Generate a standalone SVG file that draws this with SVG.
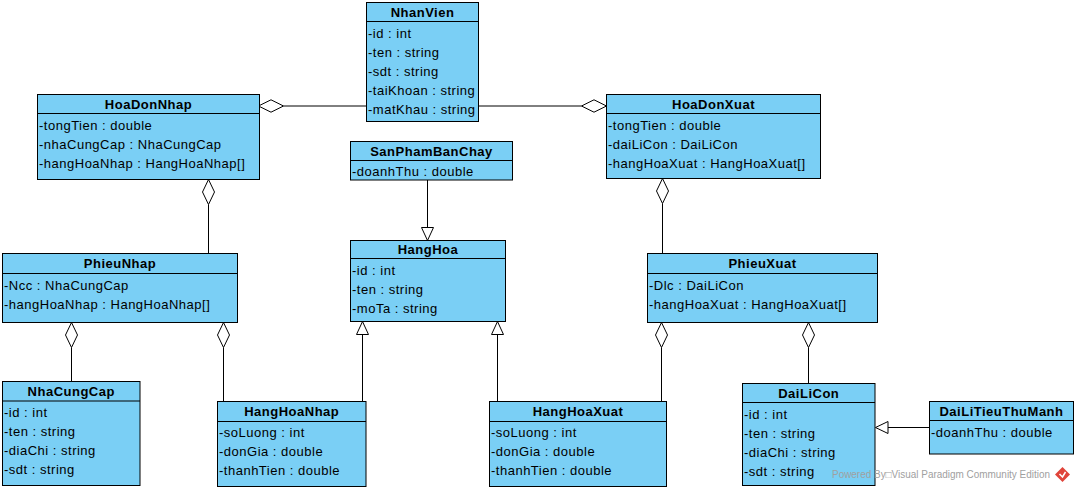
<svg xmlns="http://www.w3.org/2000/svg" width="1076" height="491" viewBox="0 0 1076 491">
<style>
.box{fill:#7ACFF5;stroke:#000;stroke-width:1}
.sep{stroke:#000;stroke-width:1}
.t{font-family:"Liberation Sans",Arial,sans-serif;font-size:13px;letter-spacing:0.5px;fill:#000}
.h{font-family:"Liberation Sans",Arial,sans-serif;font-size:13px;font-weight:bold;letter-spacing:0.5px;fill:#000;text-anchor:middle}
.ln{stroke:#000;stroke-width:1;fill:none}
.hd{fill:#fff;stroke:#000;stroke-width:1}
.wm{font-family:"Liberation Sans",Arial,sans-serif;font-size:10px;fill:#a0a0a0}
</style>
<rect width="1076" height="491" fill="#fff"/>
<g id="connectors">
  <line class="ln" x1="283.5" y1="106" x2="366.5" y2="106"/>
  <polygon class="hd" points="258.5,106 271,99.8 283.5,106 271,112.2"/>
  <line class="ln" x1="478.5" y1="106" x2="581.5" y2="106"/>
  <polygon class="hd" points="606.5,106 594,99.8 581.5,106 594,112.2"/>
  <line class="ln" x1="208.5" y1="204.5" x2="208.5" y2="253.5"/>
  <polygon class="hd" points="208.5,179.5 214.5,192 208.5,204.5 202.5,192"/>
  <line class="ln" x1="662.5" y1="203.5" x2="662.5" y2="253.5"/>
  <polygon class="hd" points="662.5,178.5 668.5,191 662.5,203.5 656.5,191"/>
  <line class="ln" x1="427.5" y1="180" x2="427.5" y2="227.5"/>
  <polygon class="hd" points="421.5,227.5 433.5,227.5 427.5,240.5"/>
  <line class="ln" x1="362.5" y1="401.5" x2="362.5" y2="334.5"/>
  <polygon class="hd" points="356.5,334.5 368.5,334.5 362.5,321.5"/>
  <line class="ln" x1="497.5" y1="401.5" x2="497.5" y2="334.5"/>
  <polygon class="hd" points="491.5,334.5 503.5,334.5 497.5,321.5"/>
  <line class="ln" x1="71.5" y1="347.5" x2="71.5" y2="381.5"/>
  <polygon class="hd" points="71.5,322.5 77.5,335 71.5,347.5 65.5,335"/>
  <line class="ln" x1="223.5" y1="347.5" x2="223.5" y2="401.5"/>
  <polygon class="hd" points="223.5,322.5 229.5,335 223.5,347.5 217.5,335"/>
  <line class="ln" x1="661.5" y1="347.5" x2="661.5" y2="401.5"/>
  <polygon class="hd" points="661.5,322.5 667.5,335 661.5,347.5 655.5,335"/>
  <line class="ln" x1="808.5" y1="347.5" x2="808.5" y2="383.5"/>
  <polygon class="hd" points="808.5,322.5 814.5,335 808.5,347.5 802.5,335"/>
  <line class="ln" x1="929.5" y1="427.5" x2="888" y2="427.5"/>
  <polygon class="hd" points="875.5,427.5 888,421.5 888,433.5"/>
</g>
<g id="NhanVien">
  <rect class="box" x="366.5" y="2.5" width="112" height="119"/>
  <line class="sep" x1="366.5" y1="21.5" x2="478.5" y2="21.5"/>
  <text class="h" x="422.5" y="16.5">NhanVien</text>
  <text class="t" x="368" y="37.5">-id : int</text>
  <text class="t" x="368" y="56.5">-ten : string</text>
  <text class="t" x="368" y="75.5">-sdt : string</text>
  <text class="t" x="368" y="94.5">-taiKhoan : string</text>
  <text class="t" x="368" y="113.5">-matKhau : string</text>
</g>
<g id="HoaDonNhap">
  <rect class="box" x="37.5" y="94.5" width="222" height="85"/>
  <line class="sep" x1="37.5" y1="113.5" x2="259.5" y2="113.5"/>
  <text class="h" x="148.5" y="108.5">HoaDonNhap</text>
  <text class="t" x="39" y="129.5">-tongTien : double</text>
  <text class="t" x="39" y="148.5">-nhaCungCap : NhaCungCap</text>
  <text class="t" x="39" y="167.5">-hangHoaNhap : HangHoaNhap[]</text>
</g>
<g id="HoaDonXuat">
  <rect class="box" x="606.5" y="94.5" width="214" height="84"/>
  <line class="sep" x1="606.5" y1="113.5" x2="820.5" y2="113.5"/>
  <text class="h" x="713.5" y="108.5">HoaDonXuat</text>
  <text class="t" x="608" y="129.5">-tongTien : double</text>
  <text class="t" x="608" y="148.5">-daiLiCon : DaiLiCon</text>
  <text class="t" x="608" y="167.5">-hangHoaXuat : HangHoaXuat[]</text>
</g>
<g id="SanPhamBanChay">
  <rect class="box" x="350.5" y="141.5" width="162" height="38.5"/>
  <line class="sep" x1="350.5" y1="160.5" x2="512.5" y2="160.5"/>
  <text class="h" x="431.5" y="155.5">SanPhamBanChay</text>
  <text class="t" x="352" y="176">-doanhThu : double</text>
</g>
<g id="HangHoa">
  <rect class="box" x="350.5" y="240.5" width="155" height="81"/>
  <line class="sep" x1="350.5" y1="258.5" x2="505.5" y2="258.5"/>
  <text class="h" x="428" y="254">HangHoa</text>
  <text class="t" x="352" y="275">-id : int</text>
  <text class="t" x="352" y="294">-ten : string</text>
  <text class="t" x="352" y="313">-moTa : string</text>
</g>
<g id="PhieuNhap">
  <rect class="box" x="2.5" y="253.5" width="235" height="69"/>
  <line class="sep" x1="2.5" y1="273.5" x2="237.5" y2="273.5"/>
  <text class="h" x="120" y="268">PhieuNhap</text>
  <text class="t" x="4" y="289.5">-Ncc : NhaCungCap</text>
  <text class="t" x="4" y="308.5">-hangHoaNhap : HangHoaNhap[]</text>
</g>
<g id="PhieuXuat">
  <rect class="box" x="647.5" y="253.5" width="230" height="69"/>
  <line class="sep" x1="647.5" y1="273.5" x2="877.5" y2="273.5"/>
  <text class="h" x="762.5" y="268">PhieuXuat</text>
  <text class="t" x="649" y="289.5">-Dlc : DaiLiCon</text>
  <text class="t" x="649" y="308.5">-hangHoaXuat : HangHoaXuat[]</text>
</g>
<g id="NhaCungCap">
  <rect class="box" x="2.5" y="381.5" width="137.5" height="104"/>
  <line class="sep" x1="2.5" y1="401" x2="140" y2="401"/>
  <text class="h" x="71.25" y="396">NhaCungCap</text>
  <text class="t" x="4" y="417">-id : int</text>
  <text class="t" x="4" y="436">-ten : string</text>
  <text class="t" x="4" y="455">-diaChi : string</text>
  <text class="t" x="4" y="474">-sdt : string</text>
</g>
<g id="HangHoaNhap">
  <rect class="box" x="217.5" y="401.5" width="148.5" height="85"/>
  <line class="sep" x1="217.5" y1="421.5" x2="366" y2="421.5"/>
  <text class="h" x="291.75" y="416">HangHoaNhap</text>
  <text class="t" x="219" y="437">-soLuong : int</text>
  <text class="t" x="219" y="456">-donGia : double</text>
  <text class="t" x="219" y="475">-thanhTien : double</text>
</g>
<g id="HangHoaXuat">
  <rect class="box" x="489.5" y="401.5" width="177" height="85"/>
  <line class="sep" x1="489.5" y1="421.5" x2="666.5" y2="421.5"/>
  <text class="h" x="578" y="416">HangHoaXuat</text>
  <text class="t" x="491" y="437">-soLuong : int</text>
  <text class="t" x="491" y="456">-donGia : double</text>
  <text class="t" x="491" y="475">-thanhTien : double</text>
</g>
<g id="DaiLiCon">
  <rect class="box" x="742.5" y="383.5" width="132.5" height="102"/>
  <line class="sep" x1="742.5" y1="402.5" x2="875" y2="402.5"/>
  <text class="h" x="808.75" y="397.5">DaiLiCon</text>
  <text class="t" x="744" y="418.5">-id : int</text>
  <text class="t" x="744" y="437.5">-ten : string</text>
  <text class="t" x="744" y="456.5">-diaChi : string</text>
  <text class="t" x="744" y="475.5">-sdt : string</text>
</g>
<g id="DaiLiTieuThuManh">
  <rect class="box" x="929.5" y="401.5" width="144" height="52.5"/>
  <line class="sep" x1="929.5" y1="420.5" x2="1073.5" y2="420.5"/>
  <text class="h" x="1001.5" y="415.5">DaiLiTieuThuManh</text>
  <text class="t" x="931" y="436.5">-doanhThu : double</text>
</g>
<g id="watermark">
  <text class="wm" x="832" y="478" textLength="218" lengthAdjust="spacingAndGlyphs">Powered By□Visual Paradigm Community Edition</text>
  <polygon points="1062.5,467 1070,474.5 1062.5,482 1055,474.5" fill="#e0443a"/>
  <polyline points="1059.5,474 1062.5,477 1065.5,472" fill="none" stroke="#fff" stroke-width="1.5"/>
</g>
</svg>
